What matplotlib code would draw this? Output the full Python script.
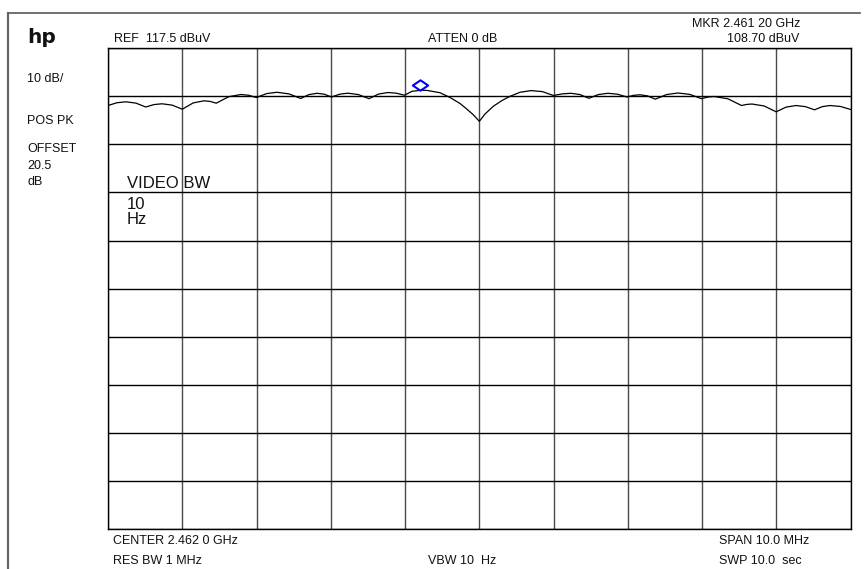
import numpy as np
import matplotlib
matplotlib.use("Agg")
import matplotlib.pyplot as plt
from matplotlib.path import Path
from matplotlib.transforms import offset_copy

# Swept trace: frequency (MHz) and level (dBuV)
freq_mhz = [
    2457.000, 2457.121, 2457.242, 2457.376, 2457.508, 2457.618, 2457.727, 2457.864,
    2458.000, 2458.147, 2458.293, 2458.376, 2458.458, 2458.625, 2458.791, 2458.894,
    2458.997, 2459.137, 2459.276, 2459.436, 2459.595, 2459.705, 2459.814, 2459.912,
    2460.009, 2460.121, 2460.231, 2460.373, 2460.514, 2460.642, 2460.770, 2460.882,
    2460.992, 2461.093, 2461.200, 2461.295, 2461.470, 2461.605, 2461.740, 2461.830,
    2461.915, 2462.000, 2462.076, 2462.188, 2462.305, 2462.413, 2462.547, 2462.695,
    2462.848, 2462.998, 2463.117, 2463.234, 2463.354, 2463.474, 2463.603, 2463.732,
    2463.860, 2463.988, 2464.075, 2464.163, 2464.265, 2464.368, 2464.521, 2464.675,
    2464.834, 2464.991, 2465.076, 2465.160, 2465.345, 2465.530, 2465.601, 2465.671,
    2465.834, 2465.997, 2466.130, 2466.264, 2466.389, 2466.513, 2466.618, 2466.721,
    2466.863, 2467.000,
]
level_dbuv = [
    105.55, 106.13, 106.32, 106.05, 105.24, 105.74, 105.91, 105.63,
    104.78, 106.09, 106.53, 106.40, 106.03, 107.38, 107.84, 107.68,
    107.22, 108.03, 108.30, 107.97, 107.01, 107.82, 108.09, 107.90,
    107.32, 107.91, 108.11, 107.82, 106.97, 107.93, 108.25, 108.11,
    107.69, 108.50, 108.70, 108.69, 108.21, 107.22, 105.97, 104.83,
    103.68, 102.27, 103.79, 105.39, 106.59, 107.46, 108.30, 108.65,
    108.44, 107.63, 107.97, 108.09, 107.83, 107.05, 107.83, 108.09,
    107.90, 107.32, 107.66, 107.78, 107.55, 106.86, 107.83, 108.15,
    107.86, 106.97, 107.31, 107.42, 106.96, 105.55, 105.78, 105.86,
    105.46, 104.24, 105.22, 105.55, 105.32, 104.66, 105.32, 105.55,
    105.35, 104.72,
]

# Instrument settings
ref_level = 117.5
db_per_div = 10
n_div = 10
center_mhz = 2462.0
span_mhz = 10.0
marker_mhz = 2461.20
marker_dbuv = 108.70

W, H = 864, 569
fig = plt.figure(figsize=(W / 100, H / 100), dpi=100)
plt.rcParams['font.family'] = ['Liberation Sans', 'DejaVu Sans']

def px(x, y):
    return x / W, 1 - y / H

# outer frame (top and left edges)
fig.add_artist(plt.Line2D([8 / W, 860 / W], [1 - 13 / H, 1 - 13 / H], color='#666666', lw=1.3))
fig.add_artist(plt.Line2D([8 / W, 8 / W], [1 - 13 / H, 0], color='#666666', lw=1.6))

left, top, right, bottom = 108, 48, 850.7, 529.3
ax = fig.add_axes([left / W, 1 - bottom / H, (right - left) / W, (bottom - top) / H])
f_lo = center_mhz - span_mhz / 2
f_hi = center_mhz + span_mhz / 2
y_lo = ref_level - n_div * db_per_div
ax.set_xlim(f_lo, f_hi)
ax.set_ylim(y_lo, ref_level)
ax.set_xticks(np.linspace(f_lo, f_hi, n_div + 1))
ax.set_yticks(np.linspace(y_lo, ref_level, n_div + 1))
ax.tick_params(length=0, labelbottom=False, labelleft=False)
ax.xaxis.grid(True, color='#4a4a4a', lw=1.0)
ax.yaxis.grid(True, color='black', lw=1.0)
ax.set_axisbelow(True)
for s in ax.spines.values():
    s.set_color('black')
    s.set_linewidth(1.0)

ax.plot(freq_mhz, level_dbuv, color='black', lw=0.9)

# marker diamond sits just above the trace point
diamond = Path([(-1, 0), (0, 0.68), (1, 0), (0, -0.68), (-1, 0)],
               [Path.MOVETO, Path.LINETO, Path.LINETO, Path.LINETO, Path.CLOSEPOLY])
ax.plot([marker_mhz], [marker_dbuv], linestyle='none', marker=diamond, ms=11,
        mfc='none', mec='#0000ff', mew=1.5,
        transform=offset_copy(ax.transData, fig=fig, x=0, y=5.5, units='dots'),
        clip_on=False)

small = 9
def t(x, y, s, size=small, ha='left', **kw):
    fig.text(*px(x, y), s, fontsize=size, ha=ha, va='baseline', color='#111111', **kw)

t(27, 43, 'hp', size=14.5, family=['DejaVu Sans'], weight='bold')
t(27, 82, '10 dB/')
t(27, 124, 'POS PK')
t(27, 152, 'OFFSET')
t(27, 169, '20.5')
t(27, 185, 'dB')
t(114, 42.3, f'REF  {ref_level} dBuV')
t(462.5, 42.3, 'ATTEN 0 dB', ha='center')
t(800, 27.3, f'MKR {marker_mhz / 1000:.3f} {marker_mhz % 1 * 100:02.0f} GHz', ha='right')
t(799, 42.3, f'{marker_dbuv:.2f} dBuV', ha='right')
t(127, 188, 'VIDEO BW', size=12)
t(127, 209, '10', size=12)
t(127, 224, 'Hz', size=12)
t(113, 544, 'CENTER 2.462 0 GHz')
t(113, 564, 'RES BW 1 MHz')
t(428, 564, 'VBW 10  Hz')
t(719, 544, 'SPAN 10.0 MHz')
t(719, 564, 'SWP 10.0  sec')

fig.savefig('out.png', dpi=100)
